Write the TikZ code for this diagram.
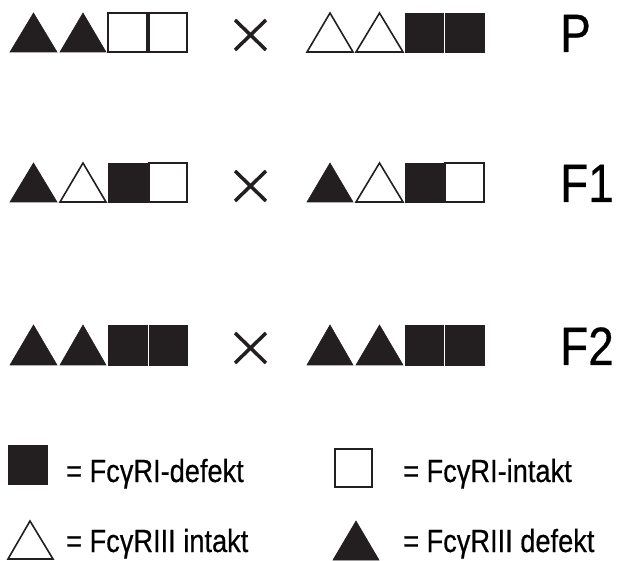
\documentclass[tikz,border=0pt]{standalone}
\usepackage{fontspec}
\setmainfont[FakeStretch=0.85,FakeBold=0.5]{Liberation Sans}
\definecolor{ink}{HTML}{231F20}
\begin{document}
\begin{tikzpicture}[x=1pt,y=-1pt,
	blk/.style={fill=ink,draw=ink,line width=0.6pt,line join=miter},
	wht/.style={fill=white,draw=ink,line width=1.6pt,line join=miter},
	gen/.style={font=\fontsize{54}{60}\selectfont,inner sep=0pt,anchor=base west},
	key/.style={font=\fontsize{32}{36}\selectfont,inner sep=0pt,anchor=base west}]
	\useasboundingbox (0,0) rectangle (624,561);
	% rows: top/bottom/cross y/label y/shape styles/name
	\foreach \t/\b/\cy/\a/\bb/\c/\d/\e/\f/\g/\h/\n in {13/52/35/blk/blk/wht/wht/wht/wht/blk/blk/P,
		163/202/186/blk/wht/blk/wht/blk/wht/blk/wht/F1,
		325/365/348/blk/blk/blk/blk/blk/blk/blk/blk/F2}{
		\draw[\a] (10,\b) -- (33.5,\t) -- (57,\b) -- cycle;
		\draw[\bb] (60,\b) -- (83,\t) -- (106,\b) -- cycle;
		\draw[\c] (108,\t) rectangle (147,\b);
		\draw[\d] (149,\t) rectangle (187,\b);
		\draw[\e] (307,\b) -- (330,\t) -- (353,\b) -- cycle;
		\draw[\f] (356,\b) -- (379.5,\t) -- (403,\b) -- cycle;
		\draw[\g] (405,\t) rectangle (443,\b);
		\draw[\h] (445,\t) rectangle (484,\b);
		\draw[ink,line width=3.5pt] (235,\cy-15) -- (266,\cy+15) (235,\cy+15) -- (266,\cy-15);
		\node[gen] (lbl\n) at (560,\b) {\n};
	}
	% legend
	\draw[blk] (8,445) rectangle (47,484);
	\node[key] (kdef1) at (66,482) {= FcγRI-defekt};
	\draw[wht] (335,449) rectangle (372,487);
	\node[key] (kint1) at (403,482) {= FcγRI-intakt};
	\draw[wht] (8,559) -- (30,521) -- (53,559) -- cycle;
	\node[key] (kint3) at (66,552) {= FcγRIII intakt};
	\draw[blk] (333,560) -- (356,521) -- (379,560) -- cycle;
	\node[key] (kdef3) at (403,552) {= FcγRIII defekt};
\end{tikzpicture}
\end{document}
